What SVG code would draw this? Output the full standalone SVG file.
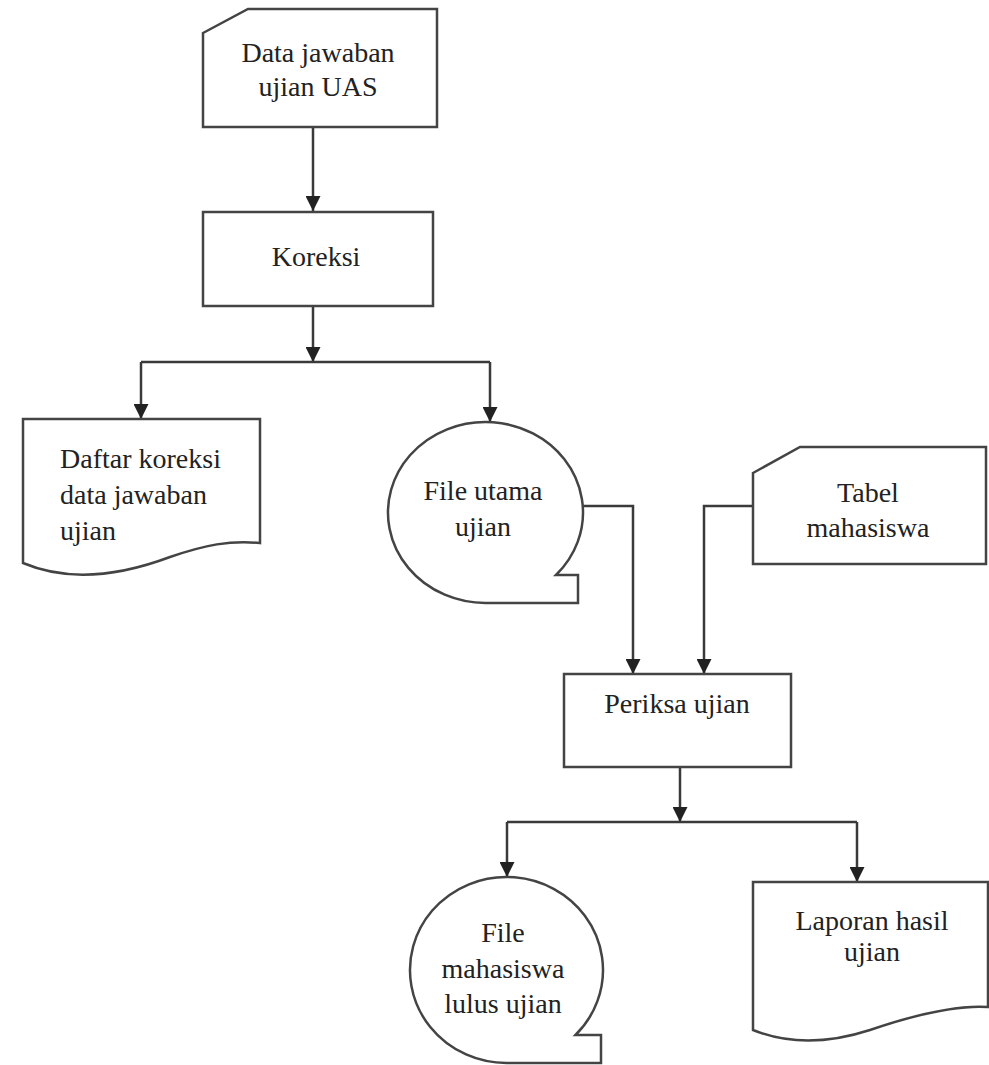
<svg xmlns="http://www.w3.org/2000/svg" width="989" height="1065" viewBox="0 0 989 1065">
  <style>
    .shape { fill: #ffffff; stroke: #444444; stroke-width: 2.5; stroke-linejoin: miter; }
    .link { fill: none; stroke: #3a3a3a; stroke-width: 2.5; }
    .label { font-family: "Liberation Serif", "Times New Roman", serif; font-size: 28px; fill: #222222; }
    .mid { text-anchor: middle; }
  </style>
  <defs>
    <marker id="arrow" markerUnits="userSpaceOnUse" markerWidth="15" markerHeight="15" refX="15" refY="7.5" orient="auto">
      <path d="M0,0 L15,7.5 L0,15 Z" fill="#222222"/>
    </marker>
  </defs>
  <rect width="989" height="1065" fill="#ffffff"/>

  <!-- connectors -->
  <g id="connectors">
    <path class="link" d="M313,127 V211" marker-end="url(#arrow)"/>
    <path class="link" d="M313,306 V362" marker-end="url(#arrow)"/>
    <path class="link" d="M141,362 H490"/>
    <path class="link" d="M141,362 V419" marker-end="url(#arrow)"/>
    <path class="link" d="M490,362 V422" marker-end="url(#arrow)"/>
    <path class="link" d="M583,506 H633 V674" marker-end="url(#arrow)"/>
    <path class="link" d="M753,506 H704 V674" marker-end="url(#arrow)"/>
    <path class="link" d="M680,767 V822" marker-end="url(#arrow)"/>
    <path class="link" d="M507,822 H857"/>
    <path class="link" d="M507,822 V877" marker-end="url(#arrow)"/>
    <path class="link" d="M857,822 V882" marker-end="url(#arrow)"/>
  </g>

  <!-- input card -->
  <g id="data-jawaban">
    <path class="shape" d="M203,33 L248,9 L437,9 L437,127 L203,127 Z"/>
    <text class="label mid" x="318" y="62">Data jawaban</text>
    <text class="label mid" x="318" y="96">ujian UAS</text>
  </g>

  <!-- process -->
  <g id="koreksi">
    <rect class="shape" x="203" y="212" width="230" height="94"/>
    <text class="label mid" x="316" y="266">Koreksi</text>
  </g>

  <!-- document -->
  <g id="daftar-koreksi">
    <path class="shape" d="M23,419 H260 V543 C230,540 205,545 170,557 C130,572 75,585 23,563 Z"/>
    <text class="label" x="60" y="468">Daftar koreksi</text>
    <text class="label" x="60" y="504">data jawaban</text>
    <text class="label" x="60" y="540">ujian</text>
  </g>

  <!-- sequential storage -->
  <g id="file-utama">
    <path class="shape" d="M556,575 L578,575 L578,603 L485.5,603 A97.5,90.5 0 1 1 556,575 Z"/>
    <text class="label mid" x="483" y="500">File utama</text>
    <text class="label mid" x="483" y="536">ujian</text>
  </g>

  <!-- input card -->
  <g id="tabel-mahasiswa">
    <path class="shape" d="M753,473 L800,447 L986,447 L986,564 L753,564 Z"/>
    <text class="label mid" x="868" y="502">Tabel</text>
    <text class="label mid" x="868" y="537">mahasiswa</text>
  </g>

  <!-- process -->
  <g id="periksa-ujian">
    <rect class="shape" x="564" y="674" width="227" height="93"/>
    <text class="label mid" x="677" y="713">Periksa ujian</text>
  </g>

  <!-- sequential storage -->
  <g id="file-mahasiswa-lulus">
    <path class="shape" d="M575.5,1035 L601,1035 L601,1063 L506.5,1063 A96.5,93 0 1 1 575.5,1035 Z"/>
    <text class="label mid" x="503" y="942">File</text>
    <text class="label mid" x="503" y="978">mahasiswa</text>
    <text class="label mid" x="503" y="1013">lulus ujian</text>
  </g>

  <!-- document -->
  <g id="laporan-hasil">
    <path class="shape" d="M753,882 H988 V1007 C960,1005 920,1013 870,1030 C830,1043 790,1045 753,1030 Z"/>
    <text class="label mid" x="872" y="930">Laporan hasil</text>
    <text class="label mid" x="872" y="961">ujian</text>
  </g>
</svg>
